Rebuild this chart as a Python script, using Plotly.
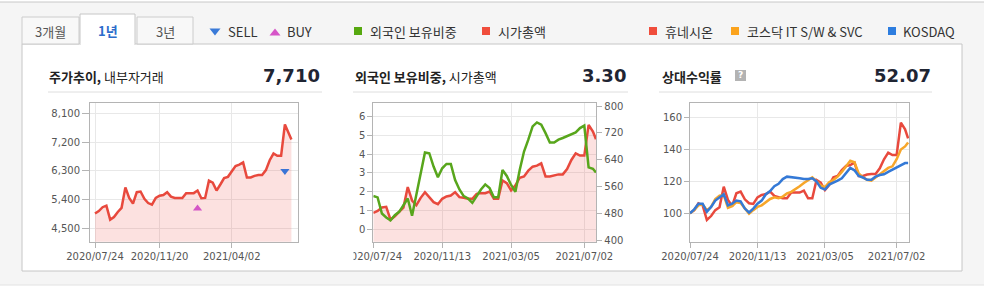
import plotly.graph_objects as go

W, H = 987, 287

# ---------------- data ----------------
dates = ['2020-07-24', '2020-07-31', '2020-08-07', '2020-08-14', '2020-08-21', '2020-08-28',
         '2020-09-04', '2020-09-11', '2020-09-18', '2020-09-25', '2020-10-02', '2020-10-09',
         '2020-10-16', '2020-10-23', '2020-10-30', '2020-11-06', '2020-11-13', '2020-11-20',
         '2020-11-27', '2020-12-04', '2020-12-11', '2020-12-18', '2020-12-25', '2021-01-01',
         '2021-01-08', '2021-01-15', '2021-01-22', '2021-01-29', '2021-02-05', '2021-02-12',
         '2021-02-19', '2021-02-26', '2021-03-05', '2021-03-12', '2021-03-19', '2021-03-26',
         '2021-04-02', '2021-04-09', '2021-04-16', '2021-04-23', '2021-04-30', '2021-05-07',
         '2021-05-14', '2021-05-21', '2021-05-28', '2021-06-04', '2021-06-11', '2021-06-18',
         '2021-06-25', '2021-07-02', '2021-07-09', '2021-07-16', '2021-07-21']

price = [4960, 5040, 5160, 5210, 4770, 4850, 5010, 5140, 5780, 5450,
         5270, 5630, 5650, 5420, 5290, 5240, 5450, 5520, 5540, 5630,
         5490, 5450, 5450, 5450, 5600, 5600, 5600, 5680, 5440, 5450,
         5990, 5930, 5680, 5870, 6070, 6110, 6270, 6450, 6490, 6560,
         6090, 6090, 6140, 6170, 6170, 6320, 6630, 6840, 6770, 6770,
         7750, 7490, 7280]

buy_dates = ['2021-01-29']
buy_vals = [5120]
sell_dates = ['2021-07-09']
sell_vals = [6290]

foreign_pct = [1.77, 1.70, 0.84, 0.63, 0.48, 0.75, 0.93, 1.29, 1.64, 0.72,
               1.91, 2.98, 4.09, 4.05, 3.34, 2.77, 3.25, 3.48, 3.48, 2.62,
               2.12, 1.77, 1.64, 1.41, 1.77, 2.12, 2.39, 2.20, 1.70, 1.70,
               3.16, 2.84, 2.36, 2.00, 3.16, 4.14, 4.77, 5.48, 5.69, 5.57,
               5.12, 4.62, 4.62, 4.77, 4.86, 4.95, 5.04, 5.16, 5.39, 5.52,
               3.30, 3.22, 3.02]

market_cap = [481, 487, 497, 499, 461, 471, 484, 497, 558, 518,
              504, 526, 543, 528, 513, 507, 523, 530, 533, 543,
              528, 526, 523, 523, 538, 540, 540, 545, 523, 523,
              578, 570, 548, 563, 586, 590, 607, 619, 622, 629,
              590, 590, 593, 596, 596, 612, 639, 659, 652, 652,
              744, 724, 701]

rel_company = [100, 102, 106.3, 105, 95.8, 98.3, 102, 103.8, 116.7, 108.4,
               104.6, 112.6, 113.6, 108.8, 106.3, 105.9, 110, 111.5, 112.1, 113.6,
               110.9, 110, 109.4, 109.4, 113, 113, 113, 114.2, 109.4, 109.4,
               120.9, 119.2, 114.6, 117.8, 122.6, 123.4, 127.2, 129.7, 130.3, 131.8,
               123.4, 123.4, 124.3, 124.7, 124.7, 128.2, 133.9, 138.1, 136.6, 136.6,
               156.9, 152.7, 147]

rel_sector = [100, 102, 105, 105.5, 102, 104, 109, 111, 111.5, 103.5,
              104.5, 107, 106.5, 103, 99.8, 102, 104, 105, 107, 109,
              110, 109.5, 110.5, 112.5, 113.5, 115, 117, 119, 121, 122.5,
              120, 117.5, 116.5, 119.5, 121, 123, 126, 129.5, 133, 132,
              125, 122.5, 121, 120.5, 122.5, 125, 127, 128.5, 129.5, 134,
              140, 142, 144.5]

rel_kosdaq = [100, 102.5, 106, 106, 101, 104, 108, 110, 112, 105,
              106, 108, 107.5, 103, 100.5, 103, 106, 108, 112, 114,
              117, 118.5, 121.5, 123, 122.8, 122.5, 122, 121.5, 121.5, 122,
              120, 116, 115, 118, 119, 120.5, 122, 125, 128.5, 127,
              123.5, 122.5, 121, 121, 123, 124, 124.5, 126, 127.5, 129,
              130.5, 131.5, 131.5]

tick1_vals = ['2020-07-24', '2020-11-20', '2021-04-02']
tick1_text = ['2020/07/24', '2020/11/20', '2021/04/02']
tick23_vals = ['2020-07-24', '2020-11-13', '2021-03-05', '2021-07-02']
tick23_text = ['2020/07/24', '2020/11/13', '2021/03/05', '2021/07/02']
price_ticks = [4500, 5400, 6300, 7200, 8100]
pct_ticks = [0, 1, 2, 3, 4, 5, 6]
cap_ticks = [400, 480, 560, 640, 720, 800]
rel_ticks = [100, 120, 140, 160]

# ---------------- styles ----------------
RED = '#e8493d'
GREEN = '#58a61c'
ORANGE = '#f7a62a'
BLUE = '#3479d6'
FILL = 'rgba(238,80,70,0.17)'
KR = 'Noto Sans CJK KR'
NUM = 'DejaVu Sans'


def X(p):
    return p / W


def Y(p):
    return 1 - p / H


fig = go.Figure()

# panel 1
fig.add_trace(go.Scatter(x=dates, y=price, mode='lines', line=dict(color=RED, width=2.5),
                         fill='tozeroy', fillcolor=FILL, xaxis='x', yaxis='y', hoverinfo='skip'))
fig.add_trace(go.Scatter(x=buy_dates, y=buy_vals, mode='markers',
                         marker=dict(symbol='triangle-up', size=8, color='#d455c6'),
                         xaxis='x', yaxis='y'))
fig.add_trace(go.Scatter(x=sell_dates, y=sell_vals, mode='markers',
                         marker=dict(symbol='triangle-down', size=8, color='#3a74d6'),
                         xaxis='x', yaxis='y'))

# panel 2 (red on right axis = base, green on left axis = overlay)
fig.add_trace(go.Scatter(x=dates, y=market_cap, mode='lines', line=dict(color=RED, width=2.5),
                         fill='tozeroy', fillcolor=FILL, xaxis='x2', yaxis='y2'))
fig.add_trace(go.Scatter(x=dates, y=foreign_pct, mode='lines', line=dict(color=GREEN, width=2.5),
                         xaxis='x2', yaxis='y3'))

# panel 3
fig.add_trace(go.Scatter(x=dates, y=rel_company, mode='lines', line=dict(color=RED, width=2.5),
                         xaxis='x3', yaxis='y4'))
fig.add_trace(go.Scatter(x=dates, y=rel_sector, mode='lines', line=dict(color=ORANGE, width=2.5),
                         xaxis='x3', yaxis='y4'))
fig.add_trace(go.Scatter(x=dates, y=rel_kosdaq, mode='lines', line=dict(color=BLUE, width=2.5),
                         xaxis='x3', yaxis='y4'))

LINE = '#b4b4b4'
GRID = '#e8e8e8'
TF = dict(family=NUM, size=10, color='#555')
common = dict(showline=True, linecolor=LINE, linewidth=1, ticks='outside', tickcolor=LINE,
              ticklen=5, showgrid=True, gridcolor=GRID, gridwidth=1, zeroline=False,
              tickfont=TF, fixedrange=True, automargin=False)

top, bot = 102.7, 241.7
ydom = [Y(bot), Y(top)]

fig.update_layout(
    template='none',
    width=W, height=H, margin=dict(l=0, r=0, t=0, b=0, pad=0, autoexpand=False),
    paper_bgcolor='white', plot_bgcolor='white', showlegend=False,
    xaxis=dict(common, domain=[X(90), X(297.7)], anchor='y', mirror=True, type='date',
               range=['2020-07-14 19:00', '2021-08-01 14:00'],
               tickmode='array', tickvals=tick1_vals, ticktext=tick1_text),
    yaxis=dict(common, domain=ydom, anchor='x', mirror=True, range=[4080, 8430],
               tickmode='array', tickvals=price_ticks, tickformat=',d', ticklen=7),
    xaxis2=dict(common, domain=[X(373.3), X(596.3)], anchor='y2', mirror=True, type='date',
                range=['2020-07-24', '2021-07-21 12:00'],
                tickmode='array', tickvals=tick23_vals, ticktext=tick23_text),
    yaxis2=dict(common, domain=ydom, anchor='x2', side='right', range=[395, 810], showgrid=False,
                tickmode='array', tickvals=cap_ticks),
    yaxis3=dict(common, anchor='x2', overlaying='y2', side='left', range=[-0.66, 6.74],
                tickmode='array', tickvals=pct_ticks),
    xaxis3=dict(common, domain=[X(690), X(909.3)], anchor='y4', mirror=True, type='date',
                range=['2020-07-24', '2021-07-23'],
                tickmode='array', tickvals=tick23_vals, ticktext=tick23_text),
    yaxis4=dict(common, domain=ydom, anchor='x3', mirror=True, range=[82.2, 169.4],
                tickmode='array', tickvals=rel_ticks),
)

shapes = []


def rect(x0, y0, x1, y1, fill, line=None, layer='below', width=1):
    shapes.append(dict(type='rect', xref='paper', yref='paper', x0=X(x0), x1=X(x1), y0=Y(y1), y1=Y(y0),
                       fillcolor=fill, line=dict(color=line or 'rgba(0,0,0,0)', width=width if line else 0),
                       layer=layer))


def hline(x0, x1, y, color, layer='below', width=1):
    shapes.append(dict(type='line', xref='paper', yref='paper', x0=X(x0), x1=X(x1), y0=Y(y), y1=Y(y),
                       line=dict(color=color, width=width), layer=layer))


def tri(cx, cy, w, h, up, color):
    if up:
        pts = [(cx - w / 2, cy + h / 2), (cx + w / 2, cy + h / 2), (cx, cy - h / 2)]
    else:
        pts = [(cx - w / 2, cy - h / 2), (cx + w / 2, cy - h / 2), (cx, cy + h / 2)]
    path = 'M ' + ' L '.join(f'{X(a):.5f},{Y(b):.5f}' for a, b in pts) + ' Z'
    shapes.append(dict(type='path', xref='paper', yref='paper', path=path, fillcolor=color,
                       line=dict(width=0), layer='above'))


# page background
rect(0, 2, 984, 285, '#f5f5f5')
hline(0, 984, 2, '#c8c8c8')
hline(0, 984, 285, '#e2e2e2')
# content box
rect(22, 44, 962, 271, 'white', '#c6c6c6')
# tabs
rect(22, 17, 79, 44, '#f8f8f8', '#cccccc')
rect(137, 17, 193, 44, '#f8f8f8', '#cccccc')
rect(80, 14, 135, 44, 'white', '#c6c6c6')
hline(80.6, 134.4, 44, 'white', width=2)
# header underlines
hline(48, 322, 92, '#dedede')
hline(353, 628, 92, '#dedede')
hline(659, 932, 92, '#dedede')
# legend markers
tri(215, 32, 11, 7, False, '#3a7ad8')
tri(275, 32, 11, 7, True, '#d655c8')
rect(354, 27, 362, 35, '#56a80f', layer='above')
rect(482, 27, 490, 35, '#f04d3c', layer='above')
rect(649, 27, 657, 35, '#f04d3c', layer='above')
rect(731, 27, 739, 35, '#fba31d', layer='above')
rect(888, 27, 896, 35, '#2d7ddf', layer='above')
# help icon
rect(735, 70, 746, 81, '#b3b3b3', layer='above')
# clip first tick labels of panel 2/3 (they are cut by the panel edge)
rect(325, 246, 353.5, 266, 'white', layer='above')
rect(632, 246, 658.5, 266, 'white', layer='above')

annotations = []


def text(x, y, s, size=13, color='#333', anchor='left', family=KR):
    annotations.append(dict(xref='paper', yref='paper', x=X(x), y=Y(y), text=s, showarrow=False,
                            xanchor=anchor, yanchor='middle', font=dict(family=family, size=size, color=color)))


text(50.5, 31, '3개월', color='#555', anchor='center')
text(107.5, 30.5, '<b>1년</b>', color='#2c6ccb', anchor='center')
text(165, 31, '3년', color='#555', anchor='center')
text(226, 32, 'SELL', color='#333')
text(285, 32, 'BUY', color='#333')
text(368, 31.5, '외국인 보유비중', color='#333')
text(496, 31.5, '시가총액', color='#333')
text(663, 31.5, '휴네시온', color='#333')
text(745, 31.5, '코스닥 IT S/W &amp; SVC', color='#333')
text(901, 31.5, 'KOSDAQ', color='#333')

text(47, 76, '<b>주가추이,</b> 내부자거래', color='#222')
text(322, 75, '<b>7,710</b>', size=18, color='#1f2533', anchor='right', family=NUM)
text(353, 76, '<b>외국인 보유비중,</b> 시가총액', color='#222')
text(628, 75, '<b>3.30</b>', size=18, color='#1f2533', anchor='right', family=NUM)
text(660, 76, '<b>상대수익률</b>', color='#222')
text(740.5, 75.5, '<b>?</b>', size=9, color='white', anchor='center', family=NUM)
text(933, 75, '<b>52.07</b>', size=18, color='#1f2533', anchor='right', family=NUM)

fig.update_layout(shapes=shapes, annotations=annotations)
fig.write_html('out.html')
